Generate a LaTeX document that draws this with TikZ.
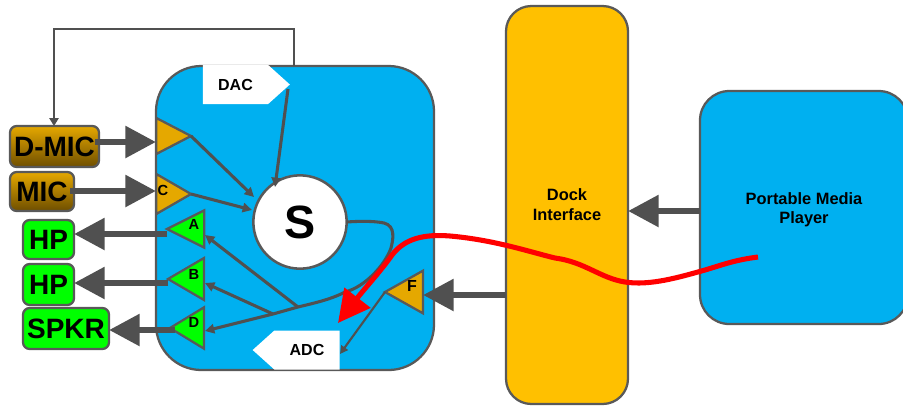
\documentclass[tikz,border=0pt]{standalone}
\usepackage{fontspec}
\setmainfont{Liberation Sans}
\usetikzlibrary{arrows.meta,shapes.geometric,shapes.symbols}
\definecolor{skyfill}{HTML}{00B0F0}
\definecolor{dockfill}{HTML}{FFC000}
\definecolor{goldfill}{HTML}{E5A800}
\definecolor{brownfill}{HTML}{6E4E00}
\definecolor{edgegrey}{HTML}{595959}
\definecolor{arrowgrey}{HTML}{505050}

\begin{document}
\begin{tikzpicture}[x=0.75pt, y=-0.75pt,
	panel/.style = {draw=edgegrey, line width=1.7pt, inner sep=0pt, outer sep=0pt, align=center},
	src/.style = {draw=edgegrey, line width=1.7pt, rounded corners=5pt, inner sep=0pt, outer sep=0pt, top color=goldfill, middle color=goldfill, bottom color=brownfill, font=\bfseries\fontsize{21}{21}\selectfont},
	sink/.style = {draw=edgegrey, line width=1.7pt, rounded corners=5pt, inner sep=0pt, outer sep=0pt, fill=green, font=\bfseries\fontsize{21}{21}\selectfont},
	amp/.style = {isosceles triangle, isosceles triangle stretches, draw=edgegrey, line width=1.7pt, inner sep=0pt, outer sep=0pt},
	tag/.style = {font=\bfseries\fontsize{11}{11}\selectfont, inner sep=0pt},
	conv/.style = {signal, signal from=nowhere, fill=white, inner sep=0pt, outer sep=0pt, minimum width=65.25pt, minimum height=29.25pt, signal pointer angle=84, font=\bfseries\fontsize{12}{12}\selectfont},
	bus/.style = {draw=arrowgrey, line width=5pt, -{Triangle[length=23pt, width=23pt]}},
	wire/.style = {draw=arrowgrey, line width=2.3pt, -{Triangle[length=7pt, width=7pt]}},
	thin wire/.style = {draw=arrowgrey, line width=1.6pt, -{Triangle[length=6pt, width=6pt]}}]
	\useasboundingbox (0,0) rectangle (903,405);
	% main blocks
	\node[panel, fill=skyfill, rounded corners=34pt, minimum width=208.5pt, minimum height=228pt] (codec) at (295,218) {};
	\node[panel, fill=dockfill, rounded corners=19pt, minimum width=91.5pt, minimum height=298.5pt, font=\bfseries\fontsize{12.3}{15}\selectfont] (dock) at (567,205) {Dock\\Interface};
	\node[panel, fill=skyfill, rounded corners=22pt, minimum width=156pt, minimum height=174.75pt] (player) at (804,207.5) {};
	\node[font=\bfseries\fontsize{12.3}{14.5}\selectfont, align=center, inner sep=0pt] (playertxt) at (804,210) {Portable Media\\Player};
	\node[draw=edgegrey, line width=1.9pt, circle, fill=white, minimum size=70pt, inner sep=0pt, outer sep=0pt, font=\bfseries\fontsize{35}{35}\selectfont] (mix) at (300,222) {S};
	\node[conv, signal to=east] (dac) at (235.5,84.5) {DAC};
	\node[conv, signal to=west] (adc) at (307,350) {ADC};
	% inputs and outputs
	\node[src, minimum width=66.75pt, minimum height=30.75pt] (dmic) at (54.5,146.5) {D-MIC};
	\node[src, minimum width=48pt, minimum height=29.25pt] (mic) at (42,191.5) {MIC};
	\node[sink, minimum width=38.25pt, minimum height=29.25pt] (hpa) at (48.5,239.5) {HP};
	\node[sink, minimum width=38.25pt, minimum height=30.75pt] (hpb) at (48.5,284.5) {HP};
	\node[sink, minimum width=64.5pt, minimum height=30.75pt, font=\bfseries\fontsize{21}{21}\selectfont] (spkr) at (66,328.5) {SPKR};
	% amplifiers
	\node[amp, fill=goldfill, minimum height=26pt, minimum width=27pt, anchor=apex] (amp1) at (191,136) {};
	\node[amp, fill=goldfill, minimum height=26pt, minimum width=30pt, anchor=apex] (amp2) at (191,194) {};
	\node[amp, fill=green, shape border rotate=180, minimum height=28pt, minimum width=28pt, anchor=apex] (amp3) at (167,229) {};
	\node[amp, fill=green, shape border rotate=180, minimum height=27pt, minimum width=31.5pt, anchor=apex] (amp4) at (168,279) {};
	\node[amp, fill=green, shape border rotate=180, minimum height=25.5pt, minimum width=31pt, anchor=apex] (amp5) at (170,328) {};
	\node[amp, fill=goldfill, shape border rotate=180, minimum height=28.5pt, minimum width=32pt, anchor=apex] (amp6) at (385,292) {};
	\node[tag] (c) at (163,190) {C};
	\node[tag] (a) at (194,224) {A};
	\node[tag] (b) at (194,274) {B};
	\node[tag] (d) at (194,322) {D};
	\node[tag, font=\bfseries\fontsize{12}{12}\selectfont] (f) at (412,286) {F};
	% free ends of the thick arrows
	\coordinate (in1) at (156,142);
	\coordinate (in2) at (156,191);
	\coordinate (out1) at (74,234);
	\coordinate (out2) at (74,283);
	\coordinate (out3) at (109,330);
	\coordinate (out4) at (175,330);
	\coordinate (hpsrc1) at (167,234);
	\coordinate (hpsrc2) at (168,283);
	\coordinate (fin) at (423,295);
	\coordinate (fsrc) at (506,295);
	\coordinate (din) at (628,211);
	\coordinate (dsrc) at (700,211);
	\draw[bus] (95,142) -- (in1);
	\draw[bus] (70,191) -- (in2);
	\draw[bus] (hpsrc1) -- (out1);
	\draw[bus] (hpsrc2) -- (out2);
	\draw[bus] (out4) -- (out3);
	\draw[bus] (fsrc) -- (fin);
	\draw[bus] (dsrc) -- (din);
	% wires inside
	\draw[wire] (amp1.apex) -- (254,197);
	\draw[wire] (amp2.apex) -- (252,210);
	\draw[wire] (288,89) -- (275,187);
	\coordinate (tap1) at (298,307);
	\coordinate (tap2) at (273,314);
	\draw[wire] (mix.east) .. controls (360,221) and (375,221) .. (384,223) .. controls (396,226) and (393,240) .. (391,248) .. controls (385,265) and (365,287) .. (345,292) .. controls (330,300) and (310,304) .. (tap1) -- (tap2) -- (205,331);
	\draw[wire] (tap1) -- (205,235);
	\draw[wire] (tap2) -- (205,283);
	\draw[thin wire] (amp6.apex) -- (340,354);
	\draw[draw=arrowgrey, line width=1.3pt, -{Triangle[length=6pt, width=7pt]}] (294,66) -- (294,29) -- (54,29) -- (dmic.north -| 54,0);
	% red path
	\draw[red, line width=3.8pt, -{Triangle[length=24pt, width=24pt]}] (758,257) .. controls (735,260) and (725,264) .. (705,270) .. controls (680,277) and (650,286) .. (625,282) .. controls (600,278) and (585,262) .. (555,258) .. controls (530,252) and (495,240) .. (450,236) .. controls (425,234) and (405,238) .. (392,255) .. controls (380,272) and (365,288) .. (338,323);
\end{tikzpicture}
\end{document}
